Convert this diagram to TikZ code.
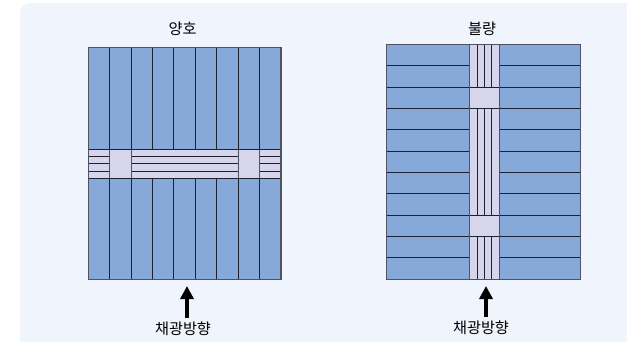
\documentclass[tikz,border=0pt]{standalone}
\usepackage{fontspec}
\newfontfamily\krfont{Noto Sans CJK KR}
\usetikzlibrary{arrows.meta}
\definecolor{panelbg}{HTML}{F0F4FC}
\definecolor{slatblue}{HTML}{87A9D9}
\definecolor{lavender}{HTML}{D7D5EB}
\definecolor{gridline}{HTML}{1E2230}
\definecolor{edgegrey}{HTML}{4E5462}
\begin{document}
\begin{tikzpicture}[
  x=1pt, y=-1pt,
  label/.style={font=\krfont\fontsize{15.2}{17}\selectfont, inner sep=0pt},
  grid/.style={draw=gridline, line width=0.9pt},
  rim/.style={draw=edgegrey, line width=1.4pt},
  light/.style={->, >={Triangle[width=13pt,length=13pt]}, line width=4pt, black}
]
\useasboundingbox (0,0) rectangle (627,342);
% panel
\begin{scope}
  \clip (0,0) rectangle (627,342);
  \fill[panelbg, rounded corners=10pt] (20,3) rectangle (660,350);
\end{scope}

% left: good
\fill[slatblue] (88.3,47.7) rectangle (281,279.3);
\foreach \i in {1,...,8}
  \draw[grid] ({88.3+\i*21.41},47.7) -- ({88.3+\i*21.41},279.3);
\fill[lavender] (88.3,149.3) rectangle (281,178.3);
\foreach \j in {1,2,3}
  \draw[grid] (88.3,{149.3+\j*7.25}) -- (281,{149.3+\j*7.25});
\foreach \i in {1,7}
  \filldraw[lavender, draw=edgegrey, line width=1pt]
    ({88.3+\i*21.41},149.3) rectangle ({88.3+(\i+1)*21.41},178.3);
\draw[grid] (88.3,149.3) -- (281,149.3) (88.3,178.3) -- (281,178.3);
\draw[rim] (88.3,47.7) rectangle (281,279.3);

% right: poor
\fill[slatblue] (386.3,44.3) rectangle (580.3,279.3);
\foreach \j in {1,...,10}
  \draw[grid] (386.3,{44.3+\j*21.36}) -- (580.3,{44.3+\j*21.36});
\fill[lavender] (469.7,44.3) rectangle (499.3,279.3);
\foreach \i in {1,2,3}
  \draw[grid] ({469.7+\i*7.4},44.3) -- ({469.7+\i*7.4},279.3);
\foreach \j in {2,8}
  \filldraw[lavender, draw=gridline, line width=0.9pt]
    (469.7,{44.3+\j*21.36}) rectangle (499.3,{44.3+(\j+1)*21.36});
\draw[rim] (469.7,44.3) -- (469.7,279.3) (499.3,44.3) -- (499.3,279.3);
\draw[rim] (386.3,44.3) rectangle (580.3,279.3);

% labels
\node[label] (good) at (182.5,29) {양호};
\node[label] (poor) at (482,29) {불량};
\node[label] (goodlight) at (183,329) {채광방향};
\node[label] (poorlight) at (481,328) {채광방향};
\coordinate (goodtip) at (187,286);
\coordinate (poortip) at (486,286);
\draw[light] (goodtip |- goodlight.north) ++(0,-4) -- (goodtip);
\draw[light] (poortip |- poorlight.north) ++(0,-4) -- (poortip);
\end{tikzpicture}
\end{document}
